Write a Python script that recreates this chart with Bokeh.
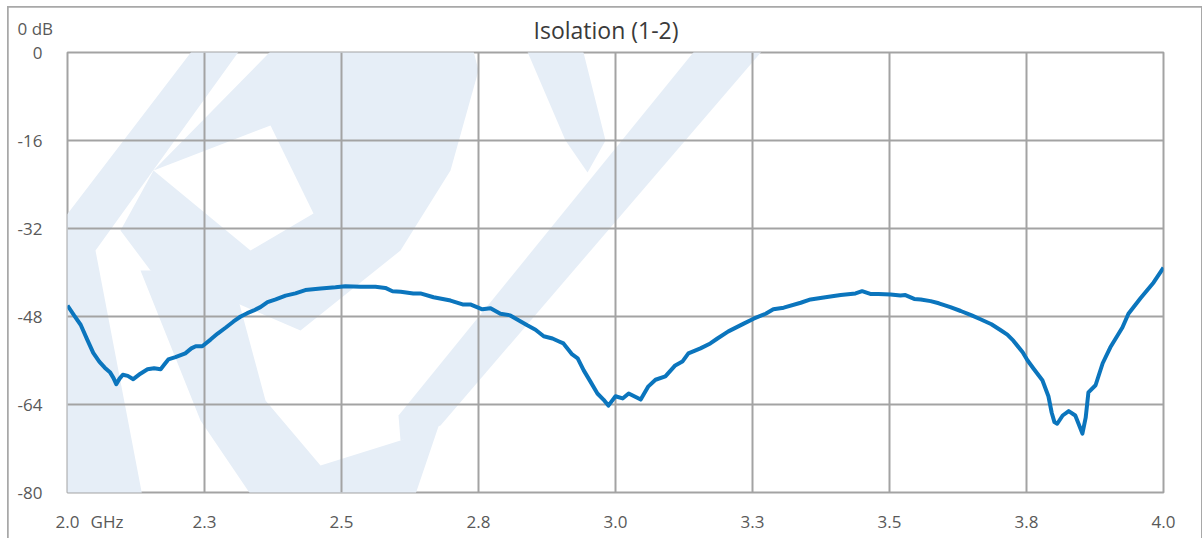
from bokeh.plotting import figure
from bokeh.models import FixedTicker, Range1d, Title
from bokeh.embed import file_html
from bokeh.resources import INLINE

TITLE = "Isolation (1-2)"
Y_UNIT = "0 dB"
X_UNIT = "GHz"

FREQ_GHZ = [
    2.000, 2.012, 2.024, 2.036, 2.047, 2.058, 2.068, 2.078, 2.084, 2.089,
    2.095, 2.101, 2.110, 2.120, 2.133, 2.146, 2.158, 2.170, 2.177, 2.184,
    2.197, 2.215, 2.226, 2.234, 2.246, 2.261, 2.274, 2.289, 2.303, 2.316,
    2.328, 2.340, 2.352, 2.365, 2.380, 2.398, 2.416, 2.434, 2.462, 2.489,
    2.507, 2.535, 2.562, 2.580, 2.593, 2.608, 2.631, 2.644, 2.668, 2.699,
    2.721, 2.735, 2.757, 2.772, 2.790, 2.808, 2.827, 2.839, 2.854, 2.869,
    2.885, 2.896, 2.905, 2.921, 2.931, 2.942, 2.954, 2.967, 2.978, 2.987,
    3.000, 3.013, 3.024, 3.046, 3.060, 3.073, 3.091, 3.109, 3.122, 3.133,
    3.155, 3.173, 3.186, 3.206, 3.234, 3.252, 3.274, 3.288, 3.307, 3.338,
    3.356, 3.383, 3.411, 3.438, 3.450, 3.465, 3.480, 3.502, 3.520, 3.529,
    3.545, 3.557, 3.575, 3.590, 3.611, 3.630, 3.650, 3.666, 3.686, 3.703,
    3.715, 3.726, 3.743, 3.752, 3.763, 3.779, 3.790, 3.796, 3.801, 3.806,
    3.816, 3.827, 3.839, 3.845, 3.852, 3.858, 3.863, 3.876, 3.889, 3.903,
    3.925, 3.936, 3.958, 3.982, 4.000,
]
ISOLATION_DB = [
    -46.0, -47.8, -49.5, -52.2, -54.6, -56.2, -57.3, -58.2, -59.2, -60.3,
    -59.3, -58.6, -58.8, -59.4, -58.4, -57.6, -57.4, -57.6, -56.7, -55.8,
    -55.4, -54.7, -53.8, -53.4, -53.4, -52.2, -51.1, -50.0, -48.9, -48.0,
    -47.4, -46.9, -46.3, -45.4, -44.9, -44.2, -43.8, -43.2, -42.9, -42.7,
    -42.5, -42.6, -42.6, -42.8, -43.4, -43.5, -43.8, -43.8, -44.5, -45.1,
    -45.8, -45.8, -46.7, -46.5, -47.5, -47.8, -48.9, -49.6, -50.4, -51.6,
    -52.0, -52.5, -52.9, -54.9, -55.6, -57.8, -59.8, -62.0, -63.1, -64.2,
    -62.5, -62.9, -62.0, -63.1, -60.7, -59.5, -58.9, -56.9, -56.2, -54.7,
    -53.8, -52.9, -52.0, -50.7, -49.3, -48.4, -47.5, -46.7, -46.4, -45.5,
    -44.9, -44.5, -44.1, -43.8, -43.4, -43.9, -43.9, -44.0, -44.2, -44.1,
    -44.8, -44.9, -45.2, -45.6, -46.3, -47.0, -47.8, -48.5, -49.4, -50.5,
    -51.3, -52.4, -54.5, -56.0, -57.5, -59.6, -62.5, -65.5, -67.2, -67.5,
    -66.0, -65.2, -66.0, -67.5, -69.3, -66.4, -61.8, -60.5, -56.5, -53.6,
    -50.0, -47.5, -44.7, -41.8, -39.1,
]

X_TICKS = [2.0, 2.25, 2.5, 2.75, 3.0, 3.25, 3.5, 3.75, 4.0]
X_TICK_LABELS = ["2.0", "2.3", "2.5", "2.8", "3.0", "3.3", "3.5", "3.8", "4.0"]
X_UNIT_AT = 2.072          # where the "GHz" unit sits in the tick-label row
Y_TICKS = [0, -16, -32, -48, -64, -80]
Y_TICK_LABELS = ["0", "-16", "-32", "-48", "-64", "-80"]

GRID = "#a3a3a3"
LABEL = "#595959"
WM = "#e6eef7"
FONT = "Open Sans"

# background watermark outline (decorative), in page pixels
WATERMARK_PX = [
    [(230, 0), (275, 0), (95, 250), (150, 538), (30, 538), (20, 275)],
    [(320, 0), (460, 0), (478, 70), (450, 170), (400, 250), (300, 330),
     (230, 300), (150, 270), (120, 230), (153, 170)],
    [(140, 270), (230, 270), (265, 400), (320, 465), (400, 440), (440, 420),
     (400, 538), (280, 538), (200, 420)],
    [(735, 0), (805, 0), (440, 425), (400, 440), (398, 415)],
    [(505, 0), (570, 0), (605, 140), (587, 172), (565, 140)],
]
WATERMARK_HOLE_PX = [(153, 170), (270, 125), (313, 213), (250, 250)]

x_lo, x_hi = X_TICKS[0], X_TICKS[-1]
y_lo, y_hi = Y_TICKS[-1], Y_TICKS[0]

p = figure(
    width=1193, height=531, output_backend="svg", toolbar_location=None,
    x_range=Range1d(x_lo, x_hi), y_range=Range1d(y_lo, y_hi),
    min_border_left=59, min_border_right=38, min_border_top=45, min_border_bottom=46,
    background_fill_color="white", border_fill_color="white",
)
p.styles = {"margin-left": "8px", "margin-top": "7px",
            "outline": "2px solid #a8a8a8", "outline-offset": "-1px"}

# frame mapping for the decorative watermark
F_L, F_R, F_T, F_B = 67.0, 1163.0, 52.0, 492.0
def gx(px):
    return x_lo + (px - F_L) * (x_hi - x_lo) / (F_R - F_L)
def gy(py):
    return y_hi - (py - F_T) * (y_hi - y_lo) / (F_B - F_T)

wx = [[gx(a) for a, b in poly] for poly in WATERMARK_PX]
wy = [[gy(b) for a, b in poly] for poly in WATERMARK_PX]
p.patches(wx, wy, fill_color=WM, line_color=None, level="image")
p.patch([gx(a) for a, b in WATERMARK_HOLE_PX], [gy(b) for a, b in WATERMARK_HOLE_PX],
        fill_color="white", line_color=None, level="image")

p.line(FREQ_GHZ, ISOLATION_DB, line_color="#0b75bd", line_width=4, line_join="round")

p.title.text = TITLE
p.title.align = "left"
p.title.offset = 466
p.title.standoff = 6
p.title.text_font = FONT
p.title.text_font_size = "23px"
p.title.text_font_style = "normal"
p.title.text_color = "#3a3a3a"

# unit of the value axis, top-left corner: a very thin title row,
# its text lifted into the main title row by the trailing empty lines
p.add_layout(Title(text=Y_UNIT + "\n\n", align="left", offset=-50, standoff=-67,
                   text_font=FONT, text_font_size="17px", text_font_style="normal",
                   text_color=LABEL), "above")

p.xaxis.ticker = FixedTicker(ticks=X_TICKS + [X_UNIT_AT])
p.xaxis.major_label_overrides = {**dict(zip(X_TICKS, X_TICK_LABELS)), X_UNIT_AT: X_UNIT}
p.yaxis.ticker = FixedTicker(ticks=Y_TICKS)
p.yaxis.major_label_overrides = dict(zip(Y_TICKS, Y_TICK_LABELS))
for ax in (p.xaxis, p.yaxis):
    ax.axis_line_color = None
    ax.major_tick_line_color = None
    ax.minor_tick_line_color = None
    ax.major_label_text_font = FONT
    ax.major_label_text_font_size = "17px"
    ax.major_label_text_color = LABEL
p.xaxis.major_label_standoff = 11
p.yaxis.major_label_standoff = 19

p.xgrid.ticker = FixedTicker(ticks=X_TICKS)
p.ygrid.ticker = FixedTicker(ticks=Y_TICKS)
for g in (p.xgrid, p.ygrid):
    g.grid_line_color = GRID
    g.grid_line_width = 2
p.outline_line_color = GRID
p.outline_line_width = 2

open("out.html", "w").write(file_html(p, INLINE))
